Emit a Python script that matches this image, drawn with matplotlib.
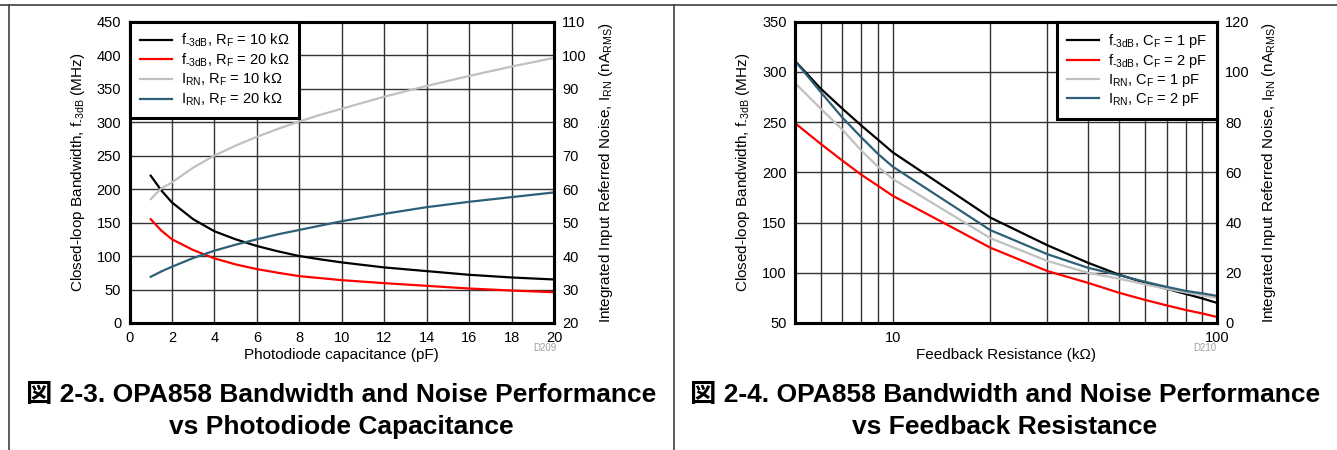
import matplotlib
matplotlib.use('Agg')
import matplotlib.pyplot as plt
from matplotlib.lines import Line2D
from matplotlib.ticker import NullFormatter

plt.rcParams['font.family'] = ['Liberation Sans', 'Noto Sans CJK JP', 'DejaVu Sans']
plt.rcParams['mathtext.fontset'] = 'custom'
plt.rcParams['mathtext.rm'] = 'Liberation Sans'
plt.rcParams['mathtext.it'] = 'Liberation Sans'
plt.rcParams['font.size'] = 10

# ---------- data: figure 2-3 (vs photodiode capacitance) ----------
cap_pf = [1, 1.5, 2, 3, 4, 5, 6, 7, 8, 9, 10, 12, 14, 16, 18, 20]
bw_rf10k = [220, 198, 180, 155, 137, 125, 115, 107, 100, 95, 90.5, 83, 77.5, 72, 68, 65]
bw_rf20k = [155, 138, 125, 109, 96.5, 87.5, 80.5, 75, 70, 67, 64, 59.5, 55.5, 51.5, 48.5, 46]
irn_rf10k = [57, 60.2, 62, 66.4, 70, 73, 75.6, 78, 80.2, 82.2, 84, 87.6, 90.8, 93.8, 96.6, 99.2]
irn_rf20k = [33.8, 35.4, 36.8, 39.4, 41.6, 43.4, 45, 46.5, 47.8, 49.1, 50.4, 52.6, 54.6, 56.2, 57.6, 59]

# ---------- data: figure 2-4 (vs feedback resistance) ----------
rf_kohm = [5, 6, 7, 8, 9, 10, 20, 30, 40, 50, 60, 70, 80, 90, 100]
bw_cf1 = [311, 283.4, 263.4, 246.7, 232.7, 220, 155, 127.4, 110, 98, 90, 84, 79, 74.5, 70]
bw_cf2 = [249, 228.4, 211.7, 197.7, 186.7, 176.7, 125, 101.7, 90, 80, 73, 67.5, 63, 59.5, 56]
irn_cf1 = [95.6, 85.4, 77, 68.7, 62.3, 57.4, 33.8, 24.7, 20, 17.6, 15.4, 13.6, 12.2, 11, 10]
irn_cf2 = [104.4, 92, 81.8, 74, 67.4, 62.3, 37, 27.4, 22, 19, 16.4, 14.4, 12.8, 11.8, 10.8]

C_BLACK = 'black'
C_RED = '#ff0000'
C_GRAY = '#c0c0c0'
C_BLUE = '#2d6078'
GRID_C = '#333333'

F3DB = r'f$_{\text{-3dB}}$'
IRN = r'I$_{\rm RN}$'

fig = plt.figure(figsize=(13.37, 4.5), dpi=100)

def style_axes(ax, ax2):
    for a in (ax, ax2):
        for s in a.spines.values():
            s.set_linewidth(2.2)
            s.set_color('black')
        a.tick_params(length=0, pad=6, labelsize=10.5)
    ax.set_axisbelow(True)

def add_legend(ax2, handles, labels, loc):
    leg = ax2.legend(handles, labels, loc=loc,
                     fancybox=False, framealpha=1, edgecolor='black', borderaxespad=0,
                     handlelength=2.2, handletextpad=0.6, labelspacing=0.15,
                     borderpad=0.7, fontsize=10.5)
    leg.get_frame().set_linewidth(2.2)

# ---------- left chart ----------
axL = fig.add_axes([129.5 / 1337, 1 - 323 / 450, 424.5 / 1337, 301.3 / 450])
axL2 = axL.twinx()
l1, = axL.plot(cap_pf, bw_rf10k, color=C_BLACK, lw=1.6)
l2, = axL.plot(cap_pf, bw_rf20k, color=C_RED, lw=1.6)
l3, = axL2.plot(cap_pf, irn_rf10k, color=C_GRAY, lw=1.6)
l4, = axL2.plot(cap_pf, irn_rf20k, color=C_BLUE, lw=1.6)
axL.set_xlim(0, 20)
axL.set_ylim(0, 450)
axL2.set_ylim(20, 110)
axL.set_xticks(range(0, 21, 2))
axL.set_yticks(range(0, 451, 50))
axL2.set_yticks(range(20, 111, 10))
axL.grid(True, color=GRID_C, lw=1)
axL.set_xlabel('Photodiode capacitance (pF)', fontsize=11, labelpad=2)
axL.set_ylabel('Closed-loop Bandwidth, ' + F3DB + ' (MHz)', fontsize=11, labelpad=7)
axL2.set_ylabel('Integrated Input Referred Noise, ' + IRN + r' (nA$_{\rm RMS}$)', fontsize=11, labelpad=7)
style_axes(axL, axL2)
add_legend(axL2, [l1, l2, l3, l4],
           [F3DB + r', R$_{\rm F}$ = 10 kΩ', F3DB + r', R$_{\rm F}$ = 20 kΩ',
            IRN + r', R$_{\rm F}$ = 10 kΩ', IRN + r', R$_{\rm F}$ = 20 kΩ'], 'upper left')

# ---------- right chart ----------
axR = fig.add_axes([795 / 1337, 1 - 323 / 450, 422 / 1337, 301.3 / 450])
axR2 = axR.twinx()
r1, = axR.plot(rf_kohm, bw_cf1, color=C_BLACK, lw=1.6)
r2, = axR.plot(rf_kohm, bw_cf2, color=C_RED, lw=1.6)
r3, = axR2.plot(rf_kohm, irn_cf1, color=C_GRAY, lw=1.6)
r4, = axR2.plot(rf_kohm, irn_cf2, color=C_BLUE, lw=1.6)
axR.set_xscale('log')
axR2.set_xscale('log')
axR.set_xlim(5, 100)
axR.set_ylim(50, 350)
axR2.set_ylim(0, 120)
axR.set_xticks([10, 100])
axR.set_xticklabels(['10', '100'])
axR.set_xticks([6, 7, 8, 9, 20, 30, 40, 50, 60, 70, 80, 90], minor=True)
axR.xaxis.set_minor_formatter(NullFormatter())
axR.tick_params(which='minor', length=0)
axR.set_yticks(range(50, 351, 50))
axR2.set_yticks(range(0, 121, 20))
axR.grid(True, which='both', color=GRID_C, lw=1)
axR.set_xlabel('Feedback Resistance (kΩ)', fontsize=11, labelpad=2)
axR.set_ylabel('Closed-loop Bandwidth, ' + F3DB + ' (MHz)', fontsize=11, labelpad=7)
axR2.set_ylabel('Integrated Input Referred Noise, ' + IRN + r' (nA$_{\rm RMS}$)', fontsize=11, labelpad=7)
style_axes(axR, axR2)
add_legend(axR2, [r1, r2, r3, r4],
           [F3DB + r', C$_{\rm F}$ = 1 pF', F3DB + r', C$_{\rm F}$ = 2 pF',
            IRN + r', C$_{\rm F}$ = 1 pF', IRN + r', C$_{\rm F}$ = 2 pF'], 'upper right')

# ---------- figure decorations ----------
fig.text(545 / 1337, 1 - 348 / 450, 'D209', fontsize=7, color='#a0a0a0', ha='center', va='center')
fig.text(1205 / 1337, 1 - 348 / 450, 'D210', fontsize=7, color='#a0a0a0', ha='center', va='center')

cap_kw = dict(fontsize=19, fontweight='bold', ha='center', va='center')
fig.text(341 / 1337, 1 - 395 / 450, '図 2-3. OPA858 Bandwidth and Noise Performance', **cap_kw)
fig.text(341 / 1337, 1 - 427 / 450, 'vs Photodiode Capacitance', **cap_kw)
fig.text(1005 / 1337, 1 - 395 / 450, '図 2-4. OPA858 Bandwidth and Noise Performance', **cap_kw)
fig.text(1005 / 1337, 1 - 427 / 450, 'vs Feedback Resistance', **cap_kw)

border_c = '#404040'
fig.add_artist(Line2D([0, 1], [1 - 4.5 / 450] * 2, color=border_c, lw=1.2, transform=fig.transFigure))
fig.add_artist(Line2D([9 / 1337] * 2, [0, 1 - 4.5 / 450], color=border_c, lw=1.2, transform=fig.transFigure))
fig.add_artist(Line2D([674 / 1337] * 2, [0, 1 - 4.5 / 450], color=border_c, lw=1.2, transform=fig.transFigure))

fig.savefig('out.png', dpi=100)
